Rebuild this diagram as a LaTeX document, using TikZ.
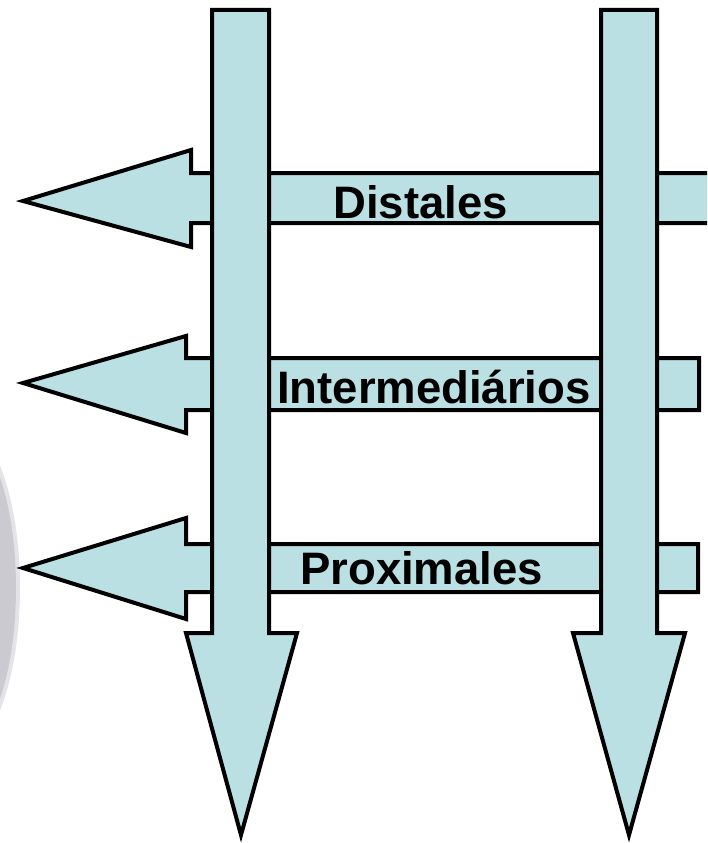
\documentclass[tikz,border=0pt]{standalone}
\usepackage{fontspec}
\setmainfont{Liberation Sans}
\begin{document}
\begin{tikzpicture}[x=1pt,y=-1pt,
  arrowshape/.style={draw=black,line width=4pt,fill=arrowfill,line join=miter},
  lbl/.style={anchor=base west,inner sep=0pt,font=\fontsize{45.5}{52}\selectfont\bfseries},
  ]
\definecolor{arrowfill}{RGB}{187,224,227}
\definecolor{blobgrey}{RGB}{202,202,208}
\useasboundingbox (0,0) rectangle (707,843);
\clip (0,0) rectangle (707,843);
% faint grey shape at the left edge
\fill[blobgrey!50] (-40,588) ellipse[x radius=60,y radius=164];
\fill[blobgrey] (-40,588) ellipse[x radius=56,y radius=158];
% horizontal arrows (behind)
\draw[arrowshape] (23,201) -- (191,150) -- (191,173) -- (730,173) -- (730,223) -- (191,223) -- (191,247) -- cycle;
\draw[arrowshape] (23,383) -- (186,336) -- (186,358) -- (699,358) -- (699,410) -- (186,410) -- (186,433) -- cycle;
\draw[arrowshape] (23,568) -- (186,518) -- (186,544) -- (698,544) -- (698,592) -- (186,592) -- (186,619) -- cycle;
% vertical arrows
\draw[arrowshape] (212,10) -- (269,10) -- (269,633) -- (297,633) -- (241,835) -- (186,633) -- (212,633) -- cycle;
\draw[arrowshape] (601,10) -- (657,10) -- (657,633) -- (685,633) -- (629,835) -- (573,633) -- (601,633) -- cycle;
% labels
\node[lbl] (distales) at (333,218) {Distales};
\node[lbl] (intermed) at (277,403) {Intermediários};
\node[lbl] (proximales) at (300,584) {Proximales};
\end{tikzpicture}
\end{document}
